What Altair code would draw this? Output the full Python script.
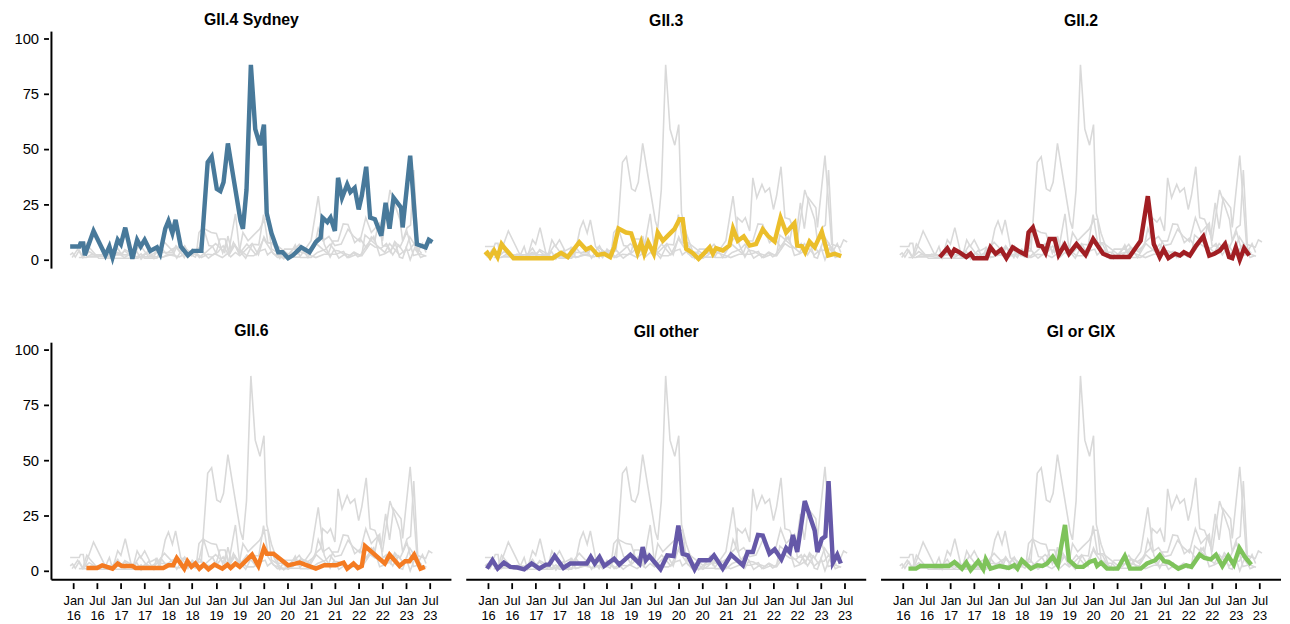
import altair as alt
import pandas as pd

panels = ["GII.4 Sydney", "GII.3", "GII.2", "GII.6", "GII other", "GI or GIX"]
colors = ["#48799a", "#ebbe2b", "#a11e23", "#f47b22", "#6558a8", "#7ec35b"]

# months since Jan 2016 and percentage values
gii4_m = [-0.8, 1.5, 1.8, 2.5, 2.9, 5.1, 8.1, 9.1, 9.9, 11.2, 12.0, 13.1, 14.9, 16.1, 17.0,
          18.0, 19.4, 21.1, 21.9, 23.2, 24.0, 25.0, 25.8, 27.1, 28.9, 30.2, 32.3, 33.9, 34.9,
          36.2, 37.1, 37.9, 39.0, 40.5, 42.2, 42.8, 43.7, 44.8, 45.9, 47.1, 48.1, 48.8, 50.0,
          51.7, 52.8, 54.2, 55.4, 57.5, 59.6, 61.2, 62.4, 62.9, 64.1, 64.9, 66.0, 66.8, 67.8,
          69.1, 69.9, 71.0, 72.0, 72.8, 73.9, 74.9, 76.1, 77.7, 78.8, 79.8, 80.8, 82.7, 83.1,
          85.0, 86.7, 88.9, 89.7, 90.6]
gii4_v = [6, 6, 7.4, 7.4, 2, 13, 2, 6, 1, 9, 7, 14.5, 0.5, 9, 6, 9, 4, 5.6, 2.7, 14, 17.5, 12,
          18, 6, 2, 4, 4, 44, 46.5, 32, 31, 35, 52.5, 36, 17.5, 14, 31.6, 88, 59, 51.7, 61, 21,
          12, 3.4, 3.4, 0.7, 2, 5.6, 3.4, 8, 10, 19, 17, 19, 13, 37, 28, 34, 30.5, 32.4, 22.7,
          29, 42, 19, 18.3, 10.8, 25.7, 14, 28, 23.5, 14.6, 47, 7, 5.6, 9, 8]

gii3_m = [-0.8, -0.2, 0.5, 1.5, 2.4, 3.4, 4.2, 6.4, 16.3, 18.4, 20.1, 23.0, 24.7, 25.9, 27.6,
          29.3, 30.8, 31.8, 32.9, 34.8, 36.1, 37.7, 38.6, 39.4, 40.4, 41.8, 42.8, 44.1, 45.3,
          47.0, 48.3, 49.1, 50.0, 51.6, 53.1, 54.6, 55.9, 56.7, 57.5, 59.2, 60.9, 61.8, 63.0,
          64.5, 66.0, 67.6, 69.3, 70.6, 72.3, 73.8, 75.2, 77.3, 78.0, 79.2, 80.0, 81.1, 82.4,
          84.2, 85.8, 87.4, 89.1]
gii3_v = [2.2, 3.1, 1.2, 4.2, 1.2, 7.1, 5.2, 0.7, 0.7, 3.1, 1.2, 7.9, 4.6, 5.6, 2.2, 2.7, 1.2,
          5.6, 14.1, 12.3, 11.9, 3.1, 7.9, 2.7, 7.9, 2.7, 12.3, 8.6, 10.8, 13.8, 18.3, 18.3, 4.9,
          3.1, 0.4, 3.1, 5.6, 2.7, 5.2, 4.2, 6.4, 14.1, 8.6, 10.5, 6.4, 7.1, 13.8, 10.8, 8.2, 19,
          12.3, 16.5, 6.4, 6.1, 3.4, 8.2, 5.6, 12.6, 1.9, 2.7, 1.6]

gii2_m = [9.3, 11.2, 12.2, 13.0, 14.5, 16.0, 17.1, 17.9, 21.1, 22.1, 23.4, 24.8, 26.1, 27.7,
          29.4, 31.0, 31.7, 32.8, 34.2, 35.1, 36.0, 37.0, 38.3, 39.3, 40.8, 41.9, 43.8, 46.1,
          48.0, 50.5, 52.5, 57.1, 60.0, 61.8, 63.3, 64.8, 65.8, 67.0, 68.7, 69.9, 70.9, 72.4,
          74.0, 75.8, 77.3, 78.6, 80.0, 81.3, 82.3, 83.1, 84.0, 85.0, 86.1, 87.4]
gii2_v = [1.2, 5.2, 2.2, 4.6, 3.1, 1.2, 2.7, 0.7, 0.7, 5.6, 2.7, 4.6, 0.7, 5.6, 3.7, 2.2, 12.3,
          14.6, 6.4, 6.1, 3.1, 9.4, 9.4, 2.2, 6.7, 2.7, 7.1, 2.2, 9.4, 2.7, 1.2, 1.2, 8.6, 28.7,
          7.1, 1.2, 4.6, 0.7, 2.7, 1.9, 3.4, 1.9, 6.4, 10.5, 1.9, 2.7, 4.2, 7.1, 1.2, 0.7, 5.6,
          0.0, 5.2, 1.9]

gii6_m = [3.3, 6.0, 7.3, 9.9, 11.2, 12.2, 14.9, 15.7, 22.7, 24.0, 25.2, 26.1, 28.0, 28.8, 29.8,
          30.8, 31.8, 32.9, 34.1, 35.6, 37.6, 38.9, 39.7, 40.9, 42.0, 45.1, 46.7, 48.1, 48.8,
          50.5, 54.2, 57.1, 61.2, 63.3, 66.2, 68.2, 69.1, 70.7, 71.8, 72.8, 73.6, 78.6, 79.8,
          82.3, 83.7, 84.8, 86.0, 87.6, 88.7]
gii6_v = [1.3, 1.3, 2.5, 1.0, 3.3, 2.2, 2.2, 1.3, 1.3, 2.5, 2.5, 5.8, 1.0, 4.3, 1.8, 3.3, 1.0,
          2.8, 0.7, 2.8, 1.0, 2.8, 1.3, 3.3, 1.8, 7.3, 2.2, 10.3, 7.7, 7.7, 2.5, 3.7, 1.0, 2.5,
          2.5, 3.7, 1.0, 3.3, 1.3, 2.2, 11.2, 3.3, 7.3, 2.2, 4.3, 4.3, 7.3, 1.0, 1.8]

giio_m = [-0.3, 1.1, 2.4, 4.0, 5.6, 7.4, 9.1, 11.0, 12.9, 14.6, 15.4, 16.8, 19.0, 20.7, 24.9,
          25.9, 26.9, 28.1, 29.3, 31.8, 33.1, 35.9, 38.2, 39.0, 39.8, 40.7, 43.5, 45.2, 46.8,
          48.0, 49.1, 50.4, 52.1, 53.3, 55.9, 57.0, 59.2, 61.3, 64.3, 65.5, 66.8, 68.1, 69.3,
          71.0, 72.3, 74.0, 75.2, 76.1, 76.9, 78.0, 79.9, 82.4, 83.1, 84.2, 85.1, 85.9, 87.0,
          88.1, 89.0]
giio_v = [1.0, 4.8, 1.0, 3.7, 1.8, 1.5, 0.7, 3.3, 1.0, 2.8, 2.8, 6.7, 1.3, 3.3, 3.3, 6.3, 3.3,
          6.3, 2.2, 5.5, 2.8, 7.3, 3.3, 10.7, 4.8, 6.7, 0.7, 7.0, 6.7, 20.4, 7.7, 7.0, 0.7, 4.8,
          4.8, 7.0, 1.0, 7.3, 2.5, 8.5, 8.5, 16.2, 15.9, 7.7, 9.7, 5.2, 10.3, 8.5, 16.2, 8.5,
          31.5, 18.2, 8.5, 14.4, 15.6, 40.5, 3.7, 7.3, 3.3]

gi_m = [1.4, 3.3, 4.4, 11.6, 13.0, 14.9, 16.0, 17.1, 19.0, 20.3, 20.9, 22.1, 24.4, 26.7, 28.1,
        28.9, 30.0, 32.3, 33.9, 35.2, 36.4, 37.8, 39.1, 40.9, 41.9, 43.8, 45.5, 47.1, 48.4,
        49.0, 50.0, 51.5, 54.2, 56.0, 57.3, 60.0, 61.6, 63.7, 64.8, 65.9, 67.0, 69.5, 71.5,
        72.8, 74.9, 76.1, 77.7, 79.0, 80.6, 82.1, 83.5, 84.9, 86.3, 87.9]
gi_v = [1.0, 1.0, 2.2, 2.2, 4.0, 1.0, 3.7, 0.3, 4.3, 0.7, 5.2, 1.0, 2.2, 1.3, 2.5, 1.0, 4.8,
        1.0, 2.5, 2.2, 3.3, 6.3, 2.5, 20.7, 4.8, 1.8, 1.8, 4.0, 4.8, 2.2, 3.7, 1.0, 1.0, 6.7,
        1.0, 1.0, 3.3, 4.8, 7.0, 4.3, 4.0, 1.0, 2.5, 1.8, 7.3, 5.8, 5.2, 7.3, 2.2, 6.7, 2.8,
        10.3, 6.3, 2.8]

y_ticks = [0, 25, 50, 75, 100]
x_tick_years = list(range(2016, 2024))
x_tick_months = [1, 7]

series = {
    "GII.4 Sydney": (gii4_m, gii4_v),
    "GII.3": (gii3_m, gii3_v),
    "GII.2": (gii2_m, gii2_v),
    "GII.6": (gii6_m, gii6_v),
    "GII other": (giio_m, giio_v),
    "GI or GIX": (gi_m, gi_v),
}
for k, (a, b) in series.items():
    assert len(a) == len(b), (k, len(a), len(b))

origin = pd.Timestamp("2016-01-01")


def to_date(m):
    return origin + pd.to_timedelta(m * 30.4375, unit="D")


rows = []
for p in panels:
    for s, (ms, vs) in series.items():
        for m, v in zip(ms, vs):
            rows.append({"panel": p, "series": s, "date": to_date(m), "value": v,
                         "hl": "yes" if s == p else "no"})
df = pd.DataFrame(rows)

W, H = 405, 240
x_enc = alt.X(
    "date:T",
    scale=alt.Scale(domain=[alt.DateTime(year=2015, month=7, date=17),
                            alt.DateTime(year=2023, month=12, date=14)]),
    axis=alt.Axis(
        values=[alt.DateTime(year=y, month=mo, date=1) for y in x_tick_years for mo in x_tick_months],
        labelExpr="[timeFormat(datum.value, '%b'), timeFormat(datum.value, '%y')]",
        title=None, domain=False, grid=False, tickSize=6, offset=2, labelPadding=6,
        labelFontSize=13, labelLineHeight=15, labelColor="black", tickColor="black",
        tickWidth=1.8, labelBaseline="top", labelFlush=False, labelOverlap=False,
    ),
)
y_enc = alt.Y(
    "value:Q",
    scale=alt.Scale(domain=[-4, 103], nice=False, zero=False),
    axis=alt.Axis(values=y_ticks, title=None, domain=False, grid=False, tickSize=5, offset=2,
                  labelPadding=5, labelFontSize=15, labelColor="black", tickColor="black",
                  tickWidth=1.8),
)

base = alt.Chart()
grey = base.transform_filter("datum.hl == 'no'").mark_line(
    color="#d9d9d9", strokeWidth=1.6
).encode(x=x_enc, y=y_enc, detail="series:N")

hl = base.transform_filter("datum.hl == 'yes'").mark_line(strokeWidth=4.5).encode(
    x=x_enc, y=y_enc,
    color=alt.Color("series:N", scale=alt.Scale(domain=panels, range=colors), legend=None),
)

xline = base.transform_filter(
    alt.FieldOneOfPredicate(field="panel", oneOf=panels[3:])
).transform_aggregate(n="count()", groupby=["panel"]).mark_rule(
    color="black", strokeWidth=2
).encode(y=alt.datum(-4))

yline = base.transform_filter(
    alt.FieldOneOfPredicate(field="panel", oneOf=[panels[0], panels[3]])
).transform_aggregate(n="count()", groupby=["panel"]).mark_rule(
    color="black", strokeWidth=2
).encode(x=alt.value(0))

chart = alt.layer(grey, hl, xline, yline, data=df).properties(width=W, height=H).facet(
    facet=alt.Facet("panel:N", sort=panels, title=None,
                    header=alt.Header(labelFontSize=16, labelFontWeight="bold",
                                      labelColor="black", labelPadding=3)),
    columns=3,
    spacing={"row": 54, "column": 13},
).properties(
    padding={"left": 5, "top": 0, "right": 0, "bottom": 0}
).configure(font="Liberation Sans").configure_view(strokeWidth=0)

chart.save("out.html", embed_options={"renderer": "svg", "actions": False})
